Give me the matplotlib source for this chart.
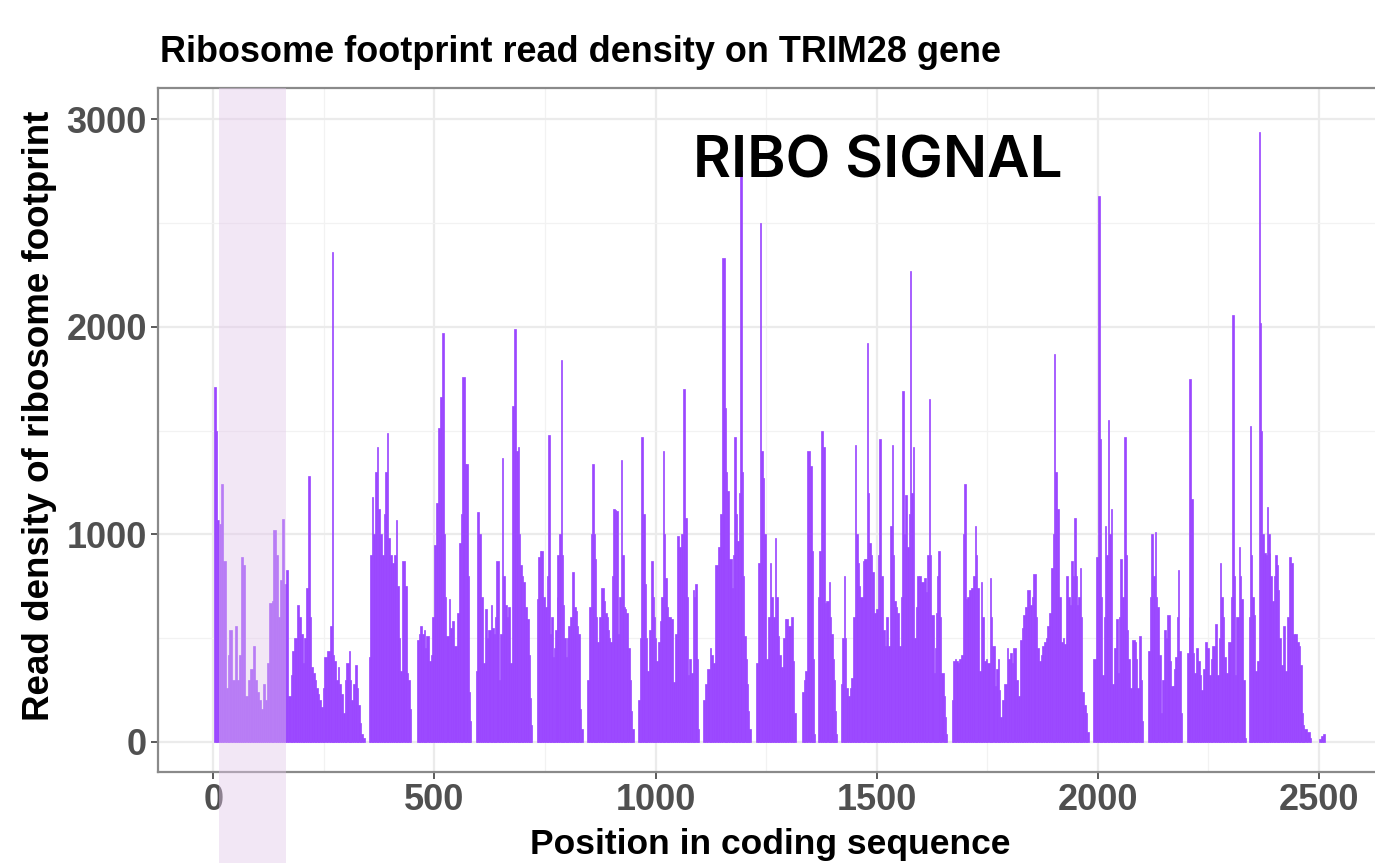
import numpy as np
import matplotlib
matplotlib.use("Agg")
import matplotlib.pyplot as plt
from matplotlib.patches import Rectangle
import matplotlib.transforms as mtransforms

# ---- data: (position, read density), step-wise ----
block_a = [(1,1710),(5,1500),(9,1070),(13,1050),(17,1240),(23,870),(29,260),(33,420),(36,540),(42,300),(48,560),(53,300),
           (58,420),(63,890),(68,850),(72,220),(78,300),(84,350),(89,460),(94,300),(99,240),(104,200),(107,160),(113,280),
           (117,200),(121,380),(127,670),(132,680),(136,1020),(142,900),(146,600),(150,780),(155,1076),(160,760),(164,830),
           (170,220),(175,320),(179,440),(183,500),(189,660),(194,600),(198,520),(202,380),(206,500),(210,740),(214,1280),
           (218,600),(221,360),(225,330),(229,300),(233,260),(236,230),(240,200),(244,170),(248,260),(251,410),(257,440),
           (263,560),(268,2360),(271,420),(274,390),(278,300),(282,360),(285,280),(288,230),(293,140),(297,300),(301,380),
           (306,440),(309,300),(312,200),(316,280),(320,370),(324,260),(328,180),(332,90),(335,40),(338,20),(342,0)]
block_b = [(351,410),(355,900),(358,1180),(362,1000),(366,1300),(370,1420),(373,1120),(377,1000),(381,900),(385,1100),
           (389,1300),(392,1490),(396,980),(400,900),(404,860),(408,900),(412,1070),(416,750),(420,500),(423,340),
           (427,870),(433,750),(437,330),(441,300),(444,160),(447,0)]
block_c = [(461,490),(465,520),(468,560),(472,520),(476,540),(479,450),(482,510),(487,390),(492,420),(495,600),(498,950),
           (503,1150),(508,1510),(512,1660),(516,1970),(521,1000),(524,700),(527,510),(532,690),(536,550),(540,580),
           (544,460),(550,620),(556,960),(560,1100),(563,1760),(568,1340),(572,1340),(575,800),(577,240),(580,100),(582,0)]
block_d = [(594,340),(597,1106),(601,1000),(605,700),(610,380),(615,640),(618,500),(622,540),(628,660),(631,550),(634,520),
           (637,600),(640,870),(645,300),(649,520),(652,1370),(656,800),(660,660),(664,600),(667,650),(671,380),(675,1620),
           (680,1990),(684,1400),(688,1420),(691,1000),(694,850),(698,800),(701,770),(705,650),(709,590),(713,420),
           (716,210),(719,80),(721,0)]
block_e = [(731,690),(735,890),(739,920),(742,920),(746,700),(750,650),(754,800),(757,1480),(761,520),(764,600),(767,410),
           (770,450),(773,540),(776,700),(778,900),(782,1000),(785,1840),(788,900),(791,660),(794,500),(797,410),(800,500),
           (803,560),(807,600),(812,820),(816,650),(820,630),(823,560),(825,520),(829,160),(832,60),(835,0)]
block_f = [(845,300),(849,650),(853,1000),(856,1340),(860,1000),(862,880),(865,600),(868,480),(873,600),(877,740),
           (883,680),(886,620),(889,600),(892,540),(895,500),(898,480),(901,800),(904,1120),(908,1115),(911,1110),
           (915,520),(918,700),(922,1360),(925,900),(928,650),(931,640),(934,620),(938,450),(941,300),(944,150),(947,60),(951,0)]
block_g = [(961,200),(965,500),(968,1470),(972,1100),(975,760),(978,500),(981,340),(986,540),(990,870),(993,700),(996,600),
           (999,500),(1002,390),(1005,480),(1009,580),(1013,700),(1016,1400),(1019,1000),(1022,790),(1025,650),(1028,600),
           (1031,600),(1034,590),(1039,290),(1044,520),(1049,990),(1054,940),(1058,1000),(1062,1700),(1067,1080),(1070,700),
           (1073,320),(1076,400),(1079,330),(1084,730),(1087,700),(1090,760),(1093,400),(1096,60),(1099,0)]
block_h = [(1108,200),(1111,280),(1117,350),(1122,450),(1126,420),(1130,380),(1135,850),(1141,940),(1146,1100),(1151,2330),
           (1156,1610),(1159,1300),(1162,1210),(1167,880),(1172,740),(1175,900),(1178,1470),(1181,1100),(1184,970),(1188,1200),
           (1191,2750),(1195,1300),(1198,800),(1200,510),(1204,400),(1207,280),(1210,150),(1212,60),(1215,0)]
block_i = [(1226,380),(1231,860),(1235,2500),(1238,1400),(1242,1270),(1246,1000),(1250,400),(1254,600),(1258,860),
           (1262,700),(1265,600),(1269,980),(1273,700),(1276,510),(1280,420),(1284,360),(1288,500),(1292,590),(1295,590),
           (1300,560),(1305,600),(1310,390),(1314,140),(1317,0)]
block_j = [(1331,240),(1335,300),(1338,340),(1343,1400),(1348,1330),(1353,920),(1356,400),(1359,40),(1361,0)]
block_k = [(1367,700),(1370,920),(1374,1500),(1378,1420),(1382,670),(1386,680),(1391,770),(1394,600),(1397,520),(1400,400),
           (1403,300),(1406,150),(1408,40),(1410,0)]
block_l = [(1419,280),(1422,500),(1425,800),(1428,500),(1431,260),(1436,220),(1439,260),(1442,310),(1446,600),(1450,1430),
           (1454,1000),(1457,860),(1460,750),(1463,700),(1468,870),(1472,880),(1477,1920),(1480,1200),(1483,960),(1486,900),
           (1489,820),(1493,620),(1498,640),(1502,900),(1506,1460),(1510,800),(1514,540),(1519,460),(1522,600),(1525,460),
           (1529,1040),(1534,1430),(1537,900),(1540,680),(1543,650),(1546,620),(1551,460),(1555,700),(1558,1690),(1561,1000),
           (1564,1190),(1569,940),(1572,1100),(1575,2270),(1578,1200),(1581,1420),(1585,500),(1588,650),(1591,800),(1596,800),
           (1600,770),(1606,790),(1611,720),(1614,900),(1617,1650),(1620,900),(1623,610),(1629,330),(1632,450),(1634,620),
           (1637,800),(1639,920),(1642,600),(1645,330),(1651,220),(1654,120),(1657,40),(1659,0)]
block_m = [(1669,200),(1672,390),(1676,400),(1679,390),(1683,380),(1687,400),(1691,420),(1694,1000),(1697,1240),(1701,690),
           (1705,700),(1709,730),(1714,740),(1718,800),(1721,1040),(1724,900),(1727,740),(1731,340),(1736,770),(1739,600),
           (1742,390),(1746,400),(1750,380),(1755,790),(1758,600),(1761,460),(1767,270),(1770,350),(1773,400),(1776,250),
           (1779,120),(1784,200),(1788,280),(1794,450),(1797,400),(1801,430),(1805,380),(1809,450),(1814,300),(1819,220),
           (1824,490),(1828,550),(1831,610),(1836,650),(1840,730),(1846,660),(1850,700),(1854,810),(1859,600),(1863,450),
           (1867,390),(1871,420),(1874,460),(1878,480),(1882,500),(1886,560),(1889,620),(1895,840),(1898,1000),(1901,1870),
           (1904,1300),(1907,1120),(1912,700),(1917,480),(1920,500),(1923,470),(1928,800),(1932,700),(1937,660),(1940,870),
           (1944,800),(1947,1080),(1950,800),(1953,660),(1956,700),(1959,840),(1962,600),(1965,240),(1969,180),(1972,140),
           (1976,50),(1979,0)]
block_n = [(1990,400),(1995,890),(2001,2630),(2005,1460),(2008,700),(2010,320),(2013,600),(2015,1040),(2019,900),(2022,1550),
           (2026,1000),(2029,1120),(2032,280),(2036,450),(2040,590),(2045,330),(2048,600),(2051,880),(2055,700),(2060,1470),
           (2063,900),(2066,540),(2069,400),(2072,260),(2078,490),(2083,480),(2086,400),(2089,260),(2094,510),(2097,300),
           (2100,100),(2103,0)]
block_o = [(2113,440),(2117,700),(2121,1000),(2125,800),(2128,1010),(2131,700),(2134,650),(2139,420),(2143,140),(2146,300),
           (2149,540),(2153,500),(2156,610),(2162,390),(2165,270),(2169,270),(2173,350),(2175,410),(2178,600),(2181,830),
           (2184,440),(2188,140),(2191,0)]
block_p = [(2201,430),(2205,600),(2207,1750),(2211,1170),(2215,430),(2218,330),(2222,450),(2226,390),(2230,320),(2233,250),
           (2237,350),(2241,480),(2247,450),(2252,320),(2255,400),(2258,460),(2264,570),(2270,320),(2273,500),(2276,860),
           (2279,700),(2282,600),(2286,410),(2290,330),(2295,480),(2300,700),(2304,2055),(2307,800),(2309,320),(2313,600),
           (2318,940),(2321,800),(2324,690),(2328,300),(2332,20),(2335,0)]
block_q = [(2341,600),(2343,1520),(2346,900),(2348,700),(2353,610),(2356,340),(2360,390),(2364,2940),(2367,2020),(2369,1500),
           (2372,1000),(2375,910),(2379,900),(2382,1130),(2385,1000),(2388,910),(2390,800),(2393,680),(2397,800),(2401,900),
           (2404,850),(2407,730),(2410,500),(2413,370),(2418,560),(2422,340),(2427,600),(2432,890),(2437,860),(2441,520),
           (2445,520),(2449,480),(2454,460),(2458,370),(2461,140),(2464,80),(2467,60),(2473,50),(2479,20),(2482,0)]
block_r = [(2500,15),(2505,30),(2510,40),(2514,0)]

blocks = [block_a, block_b, block_c, block_d, block_e, block_f, block_g, block_h, block_i,
          block_j, block_k, block_l, block_m, block_n, block_o, block_p, block_q, block_r]

x_ticks = [0, 500, 1000, 1500, 2000, 2500]
y_ticks = [0, 1000, 2000, 3000]
highlight = (14, 165)   # shaded coding region

title = "Ribosome footprint read density on TRIM28 gene"
xlabel = "Position in coding sequence"
ylabel = "Read density of ribosome footprint"
overlay = "RIBO SIGNAL"

# ---- figure ----
W, H = 1375, 863
fig = plt.figure(figsize=(W / 100, H / 100), dpi=100)
fig.patch.set_facecolor("white")
ax = fig.add_axes([158 / W, 1 - 772 / H, (1381 - 158) / W, (772 - 88) / H])

pts = [p for b in blocks for p in b]
pos = np.array([p[0] for p in pts], dtype=float)
val = np.array([p[1] for p in pts], dtype=float)
widths = np.diff(pos)
purple = "#9b47ff"
mask = val[:-1] > 0
ax.bar(pos[:-1][mask], val[:-1][mask], width=widths[mask], align="edge", color=purple,
       edgecolor=purple, linewidth=0.5, zorder=3)

ax.set_xlim(-125, 2640)
ax.set_ylim(-145, 3150)

# grid like ggplot theme_bw
ax.set_xticks(x_ticks)
ax.set_yticks(y_ticks)
ax.set_xticks([250, 750, 1250, 1750, 2250], minor=True)
ax.set_yticks([500, 1500, 2500], minor=True)
ax.grid(which="major", color="#ebebeb", linewidth=1.6, zorder=0)
ax.grid(which="minor", color="#f2f2f2", linewidth=0.9, zorder=0)
ax.set_axisbelow(True)
ax.tick_params(which="minor", length=0)
ax.tick_params(which="major", length=5, width=1.3, color="#4d4d4d", pad=3)
for spine in ax.spines.values():
    spine.set_color("#8a8a8a")
    spine.set_linewidth(1.6)
ax.spines["right"].set_visible(False)

for lab in ax.get_xticklabels() + ax.get_yticklabels():
    lab.set_fontfamily("Liberation Sans")
    lab.set_fontweight("bold")
    lab.set_fontsize(26)
    lab.set_color("#505050")

# shaded region, extends below the panel
trans = mtransforms.blended_transform_factory(ax.transData, ax.transAxes)
rect = Rectangle((highlight[0], -0.15), highlight[1] - highlight[0], 1.15, transform=trans,
                 facecolor=(0.886, 0.78, 0.914), alpha=0.42, edgecolor="none", clip_on=False, zorder=5)
ax.add_patch(rect)

fig.text(160 / W, 1 - 53 / H, title, fontfamily="Liberation Sans", fontweight="bold",
         fontsize=25.9, color="black", ha="left", va="center")
fig.text(770 / W, 1 - 844 / H, xlabel, fontfamily="Liberation Sans", fontweight="bold",
         fontsize=25.5, color="black", ha="center", va="center")
fig.text(40 / W, 1 - 416 / H, ylabel, fontfamily="Liberation Sans", fontweight="bold",
         fontsize=26.5, color="black", ha="center", va="center", rotation=90)
ax.text((693 - 158) / (1381 - 158), 1 - (162 - 88) / (772 - 88), overlay, transform=ax.transAxes,
        fontfamily="Inter", fontweight="semibold",
        fontsize=42, color="black", ha="left", va="center", zorder=10)

fig.savefig("out.png", dpi=100, facecolor="white")
